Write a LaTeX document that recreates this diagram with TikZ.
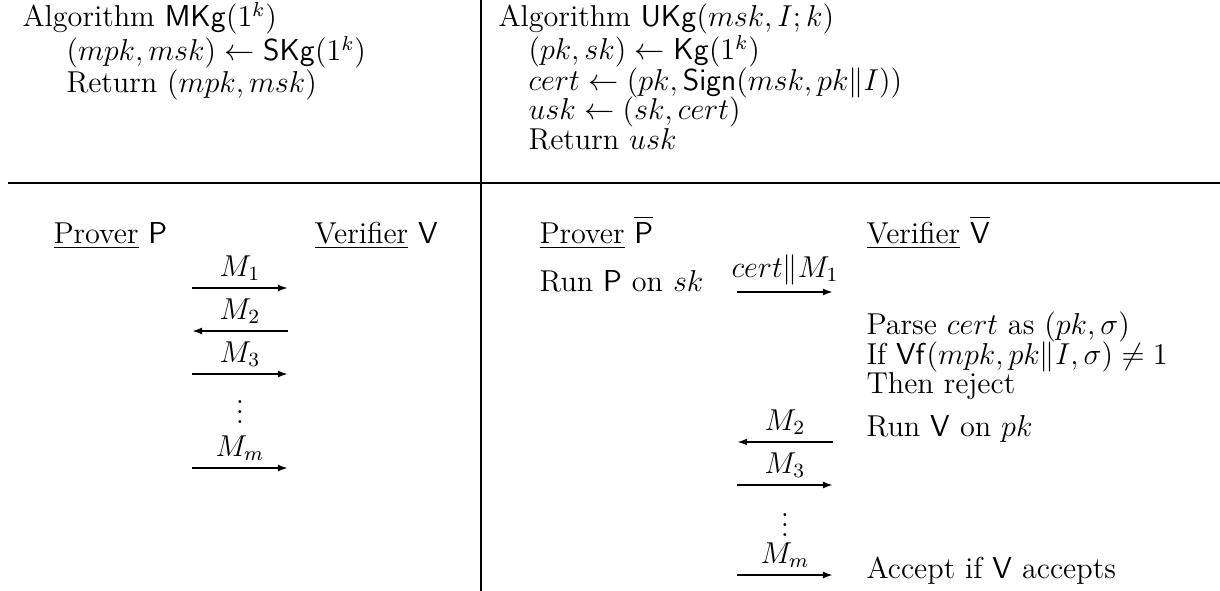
\documentclass[12pt,tikz,border=0pt]{standalone}
\usepackage{amsmath}
\usetikzlibrary{arrows.meta}

\newcommand\tightdots{\vbox{\baselineskip=4pt\lineskiplimit=0pt\hbox{.}\hbox{.}\hbox{.}}}

\begin{document}
\begin{tikzpicture}[x=0.397pt, y=-0.397pt,
  txt/.style={anchor=base west, inner sep=0pt},
  msg/.style={-{Latex[length=4pt, width=2.8pt]}, line width=0.8pt},
  lbl/.style={above, inner sep=2.5pt},
  dots/.style={inner sep=0pt},
  rule/.style={line width=1pt}
]
  \useasboundingbox (0,0) rectangle (1220,591);

  % rules between the four parts
  \draw[rule] (8,183) -- (1220,183);
  \draw[rule] (481,0) -- (481,591);

  % master key generation
  \node[txt] (mkg)  at (22,27) {Algorithm $\mathsf{MKg}(1^k)$};
  \node[txt] (mkg1) at (66,61) {$(mpk,msk)\leftarrow\mathsf{SKg}(1^k)$};
  \node[txt] (mkg2) at (66,93) {Return $(mpk,msk)$};

  % user key generation
  \node[txt] (ukg)  at (498,27)  {Algorithm $\mathsf{UKg}(msk,I;k)$};
  \node[txt] (ukg1) at (528,60)  {$(pk,sk)\leftarrow\mathsf{Kg}(1^k)$};
  \node[txt] (ukg2) at (528,91)  {$cert\leftarrow(pk,\mathsf{Sign}(msk,pk\|I))$};
  \node[txt] (ukg3) at (528,120) {$usk\leftarrow(sk,cert)$};
  \node[txt] (ukg4) at (528,150) {Return $usk$};

  % protocol P, V
  \node[txt] (P) at (53,243)  {\underline{Prover} $\mathsf{P}$};
  \node[txt] (V) at (314,243) {\underline{Verifier} $\mathsf{V}$};
  \foreach \i/\y in {1/288, 2/331, 3/374, m/468} {
    \coordinate (pl\i) at (192,\y);
    \coordinate (vl\i) at (288,\y);
  }
  \draw[msg] (pl1) -- node[lbl] (ml1) {$M_1$} (vl1);
  \draw[msg] (vl2) -- node[lbl] (ml2) {$M_2$} (pl2);
  \draw[msg] (pl3) -- node[lbl] (ml3) {$M_3$} (vl3);
  \draw[msg] (plm) -- node[lbl] (mlm) {$M_m$} (vlm);
  \node[dots] (dl) at (240,412) {\tightdots};

  % protocol Pbar, Vbar
  \node[txt] (Pb) at (539,243) {\underline{Prover} $\overline{\mathsf{P}}$};
  \node[txt] (Vb) at (866,243) {\underline{Verifier} $\overline{\mathsf{V}}$};
  \node[txt] (runp) at (539,291) {Run $\mathsf{P}$ on $sk$};
  \node[txt] (vb1) at (866,334) {Parse $cert$ as $(pk,\sigma)$};
  \node[txt] (vb2) at (866,364) {If $\mathsf{Vf}(mpk,pk\|I,\sigma)\neq1$};
  \node[txt] (vb3) at (866,393) {Then reject};
  \node[txt] (runv) at (866,436) {Run $\mathsf{V}$ on $pk$};
  \node[txt] (acc) at (866,578) {Accept if $\mathsf{V}$ accepts};
  \foreach \i/\y in {1/292, 2/442, 3/485, m/575} {
    \coordinate (pr\i) at (737,\y);
    \coordinate (vr\i) at (833,\y);
  }
  \draw[msg] (pr1) -- node[lbl] (mr1) {$cert\|M_1$} (vr1);
  \draw[msg] (vr2) -- node[lbl] (mr2) {$M_2$} (pr2);
  \draw[msg] (pr3) -- node[lbl] (mr3) {$M_3$} (vr3);
  \draw[msg] (prm) -- node[lbl] (mrm) {$M_m$} (vrm);
  \node[dots] (dr) at (785,525) {\tightdots};
\end{tikzpicture}
\end{document}
